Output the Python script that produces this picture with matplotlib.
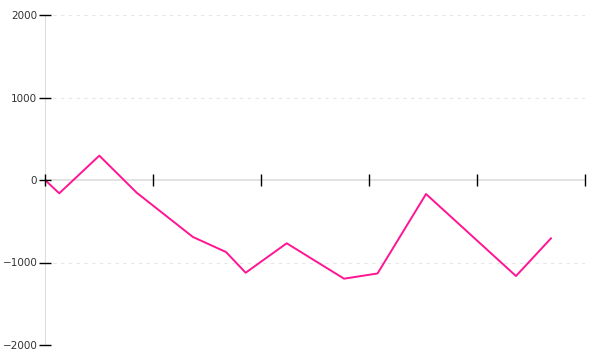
import matplotlib
matplotlib.use("Agg")
import matplotlib.pyplot as plt

# Значения
x_vals = [0.0, 0.132, 0.503, 0.849, 1.370, 1.676, 1.858, 2.238, 2.769, 3.079, 3.528, 4.361, 4.685]
y_vals = [0, -161, 295, -154, -691, -873, -1124, -767, -1196, -1133, -170, -1164, -707]
y_ticks = [-2000, -1000, 0, 1000, 2000]
x_ticks = [0, 1, 2, 3, 4, 5]

fig = plt.figure(figsize=(6, 3.6), dpi=100)
ax = fig.add_axes([45 / 600, 1 - 345 / 360, 540 / 600, 330 / 360])

ax.plot(x_vals, y_vals, color="#ff1493", linewidth=1.4, zorder=3)

ax.set_xlim(0, 5)
ax.set_ylim(-2000, 2000)

for yv in y_ticks:
    if yv != 0:
        ax.axhline(yv, color="#e6e6e6", linewidth=0.8, linestyle=(0, (3, 4)), zorder=1)

ax.spines["top"].set_visible(False)
ax.spines["right"].set_visible(False)
ax.spines["left"].set_color("#dddddd")
ax.spines["left"].set_zorder(1.5)
ax.spines["bottom"].set_position(("data", 0))
ax.spines["bottom"].set_color("#dddddd")
ax.spines["bottom"].set_linewidth(1.2)
ax.spines["bottom"].set_zorder(1.5)

ax.set_yticks(y_ticks)
ax.set_yticklabels([str(v).replace("-", "\u2212") for v in y_ticks])
ax.tick_params(axis="y", direction="inout", length=9, width=1, color="black", pad=1,
               labelsize=7.5, labelcolor="#333333")

ax.set_xticks(x_ticks)
ax.set_xticklabels([])
ax.tick_params(axis="x", direction="inout", length=8, width=1, color="black")
ax.xaxis.set_zorder(4)
ax.yaxis.set_zorder(4)

fig.savefig("out.png", dpi=100)
